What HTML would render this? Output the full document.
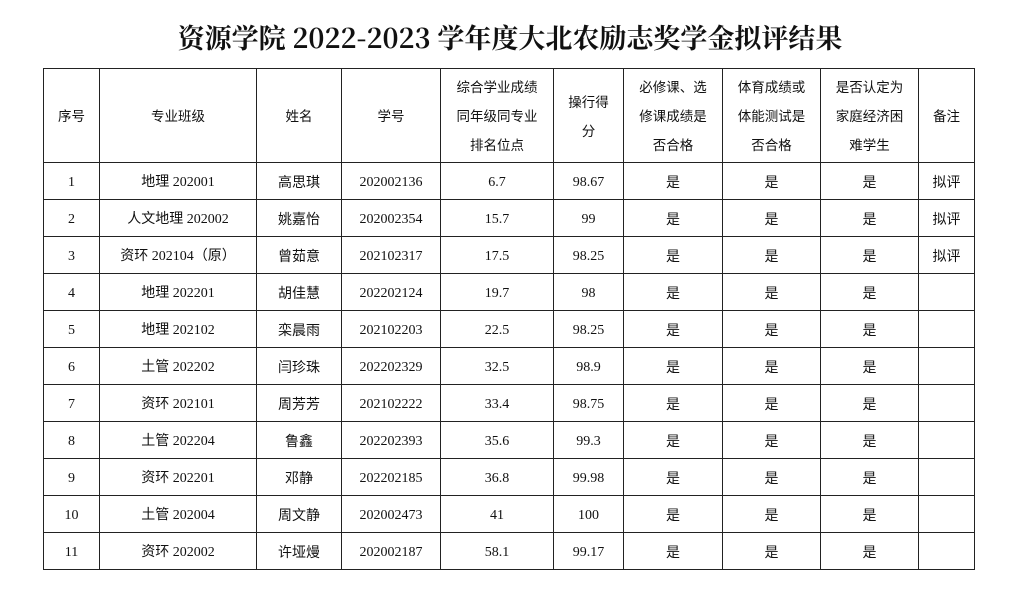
<!DOCTYPE html>
<html><head><meta charset="utf-8"><style>
body{margin:0;width:1028px;height:589px;background:#fff;position:relative;overflow:hidden}
.t{position:absolute;left:0;width:1020px;top:17px;text-align:center;font-family:"Noto Serif CJK SC",serif;font-weight:bold;font-size:27px;line-height:40px;color:#111}
table{position:absolute;left:43px;top:68px;border-collapse:collapse;table-layout:fixed;font-family:"Liberation Serif","Noto Sans CJK SC",serif;font-size:14px;color:#111}
td{border:1px solid #222;text-align:center;padding:4px 0 0 0;height:32px;line-height:18px;overflow:hidden;white-space:nowrap;vertical-align:middle}
td.c{padding-top:2px;height:34px}
tr.h td{height:93px;padding:0;line-height:29px;font-family:"Noto Sans CJK SC",sans-serif;font-size:13.5px;white-space:normal}
.c{font-family:"Noto Sans CJK SC",sans-serif}
</style></head><body>
<div class="t">资源学院 2022-2023 学年度大北农励志奖学金拟评结果</div>
<table>
<colgroup><col style="width:56px"><col style="width:157px"><col style="width:85px"><col style="width:99px"><col style="width:113px"><col style="width:70px"><col style="width:99px"><col style="width:98px"><col style="width:98px"><col style="width:56px"></colgroup>
<tr class="h"><td>序号</td><td>专业班级</td><td>姓名</td><td>学号</td><td>综合学业成绩<br>同年级同专业<br>排名位点</td><td>操行得<br>分</td><td>必修课、选<br>修课成绩是<br>否合格</td><td>体育成绩或<br>体能测试是<br>否合格</td><td>是否认定为<br>家庭经济困<br>难学生</td><td>备注</td></tr>
<tr><td>1</td><td>地理 202001</td><td class="c">高思琪</td><td>202002136</td><td>6.7</td><td>98.67</td><td class="c">是</td><td class="c">是</td><td class="c">是</td><td class="c">拟评</td></tr>
<tr><td>2</td><td>人文地理 202002</td><td class="c">姚嘉怡</td><td>202002354</td><td>15.7</td><td>99</td><td class="c">是</td><td class="c">是</td><td class="c">是</td><td class="c">拟评</td></tr>
<tr><td>3</td><td>资环 202104（原）</td><td class="c">曾茹意</td><td>202102317</td><td>17.5</td><td>98.25</td><td class="c">是</td><td class="c">是</td><td class="c">是</td><td class="c">拟评</td></tr>
<tr><td>4</td><td>地理 202201</td><td class="c">胡佳慧</td><td>202202124</td><td>19.7</td><td>98</td><td class="c">是</td><td class="c">是</td><td class="c">是</td><td></td></tr>
<tr><td>5</td><td>地理 202102</td><td class="c">栾晨雨</td><td>202102203</td><td>22.5</td><td>98.25</td><td class="c">是</td><td class="c">是</td><td class="c">是</td><td></td></tr>
<tr><td>6</td><td>土管 202202</td><td class="c">闫珍珠</td><td>202202329</td><td>32.5</td><td>98.9</td><td class="c">是</td><td class="c">是</td><td class="c">是</td><td></td></tr>
<tr><td>7</td><td>资环 202101</td><td class="c">周芳芳</td><td>202102222</td><td>33.4</td><td>98.75</td><td class="c">是</td><td class="c">是</td><td class="c">是</td><td></td></tr>
<tr><td>8</td><td>土管 202204</td><td class="c">鲁鑫</td><td>202202393</td><td>35.6</td><td>99.3</td><td class="c">是</td><td class="c">是</td><td class="c">是</td><td></td></tr>
<tr><td>9</td><td>资环 202201</td><td class="c">邓静</td><td>202202185</td><td>36.8</td><td>99.98</td><td class="c">是</td><td class="c">是</td><td class="c">是</td><td></td></tr>
<tr><td>10</td><td>土管 202004</td><td class="c">周文静</td><td>202002473</td><td>41</td><td>100</td><td class="c">是</td><td class="c">是</td><td class="c">是</td><td></td></tr>
<tr><td>11</td><td>资环 202002</td><td class="c">许垭熳</td><td>202002187</td><td>58.1</td><td>99.17</td><td class="c">是</td><td class="c">是</td><td class="c">是</td><td></td></tr>
</table>
</body></html>
